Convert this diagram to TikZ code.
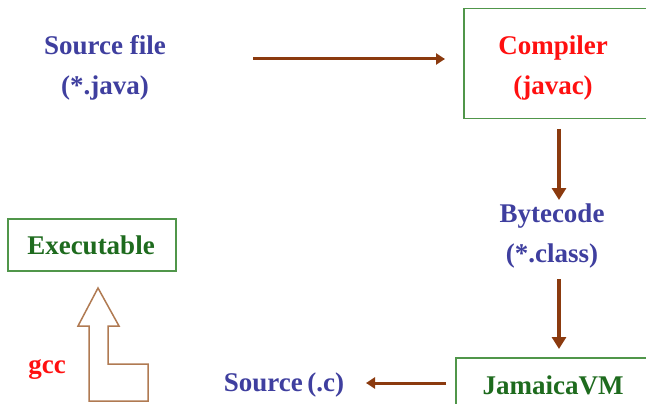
\documentclass[tikz,border=0pt]{standalone}
\usepackage{fontspec}
\setmainfont{Liberation Serif}
\usetikzlibrary{arrows.meta}
\definecolor{tblue}{HTML}{3F3F9F}
\definecolor{tred}{HTML}{FF1010}
\definecolor{tgreen}{HTML}{1E6B1E}
\definecolor{bgreen}{HTML}{50964A}
\definecolor{abrown}{HTML}{8B3A0E}
\definecolor{lbrown}{HTML}{B07A52}
\begin{document}
\begin{tikzpicture}[x=1pt,y=-1pt,
  lbl/.style={font=\fontsize{27}{40}\selectfont\bfseries, align=center, inner sep=0pt},
  boxed/.style={draw=bgreen, line width=1.5pt},
  flow/.style={draw=abrown, line width=3pt, -{Triangle[length=9pt,width=11pt]}},
  vflow/.style={draw=abrown, line width=4.5pt, -{Triangle[length=12pt,width=14pt]}}]
\useasboundingbox (0,0) rectangle (646,404);
\fill[white] (0,0) rectangle (646,404);
% boxes
\node[boxed, minimum width=190pt, minimum height=110pt, anchor=north west] (compbox) at (463,8) {};
\node[boxed, minimum width=200pt, minimum height=60pt, anchor=north west] (jvmbox) at (455,357) {};
\node[boxed, minimum width=168pt, minimum height=52pt, anchor=north west] (exebox) at (7,218) {};
% texts
\node[lbl, text=tblue] (src) at (105,68) {Source file\\(*.java)};
\node[lbl, text=tred] (comp) at (553,68) {Compiler\\(javac)};
\node[lbl, text=tblue] (byte) at (552,236) {Bytecode\\(*.class)};
\node[lbl, text=tgreen] (jvm) at (553,385) {JamaicaVM};
\node[lbl, text=tblue] (srcc) at (284,385) {Source\,(.c)};
\node[lbl, text=tgreen] (exe) at (91,245) {Executable};
\node[lbl, text=tred] (gcc) at (47,370) {gcc};
% connectors
\coordinate (a1s) at (253,59);
\coordinate (a1e) at (445,59);
\draw[flow] (a1s) -- (a1e);
\draw[vflow] (559,129) -- (559,200);
\draw[vflow] (559,279) -- (559,349);
\coordinate (a4s) at (446,383);
\coordinate (a4e) at (366,383);
\draw[flow] (a4s) -- (a4e);
% hollow arrow
\draw[lbrown, line width=1.5pt, line join=miter]
  (98,288) -- (119,326) -- (108,326) -- (108,364) -- (148,364) -- (148,401)
  -- (89,401) -- (89,326) -- (78,326) -- cycle;
\end{tikzpicture}
\end{document}
